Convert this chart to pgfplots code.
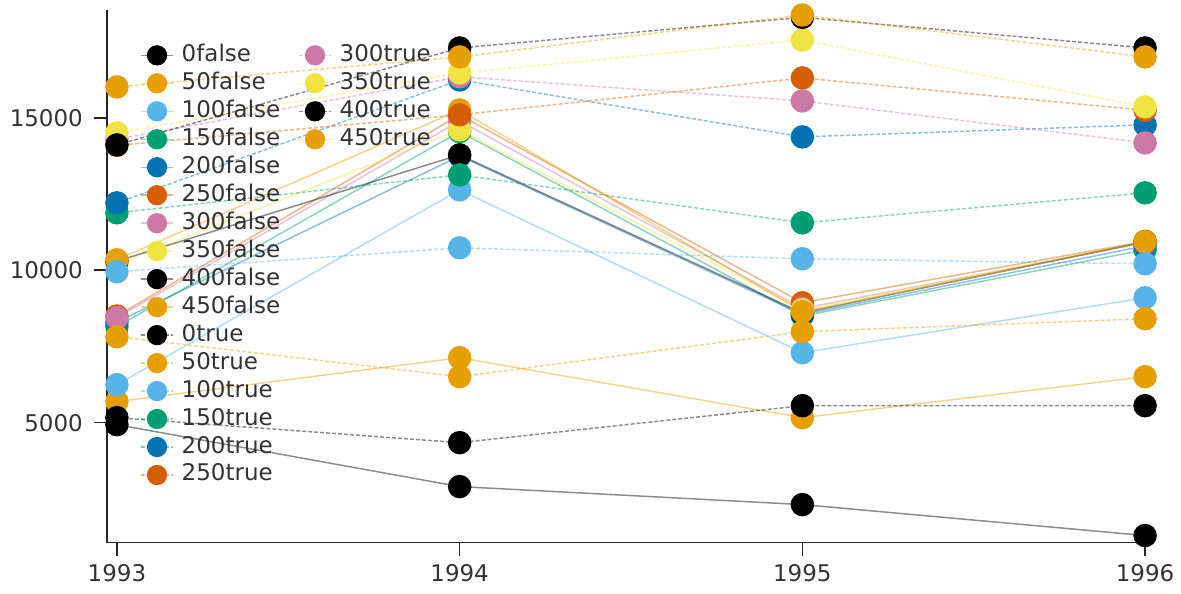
\documentclass[border=0pt]{standalone}
\usepackage{fontspec}
\setmainfont{DejaVu Sans}
\usepackage{pgfplots}
\pgfplotsset{compat=1.18}
\definecolor{wblack}{HTML}{000000}
\definecolor{worange}{HTML}{E69F00}
\definecolor{wsky}{HTML}{56B4E9}
\definecolor{wgreen}{HTML}{009E73}
\definecolor{wblue}{HTML}{0072B2}
\definecolor{wverm}{HTML}{D55E00}
\definecolor{wpink}{HTML}{CC79A7}
\definecolor{wyellow}{HTML}{F0E442}
\definecolor{txt}{HTML}{333333}
\pgfplotsset{
  sf/.style={color=#1, line width=0.75pt, draw opacity=0.45, mark=*, mark size=5.5pt,
    mark options={solid, draw opacity=1, fill opacity=1, fill=#1, draw=#1}},
  st/.style={sf=#1, dash pattern=on 2pt off 1pt},
}
\begin{document}
\begin{tikzpicture}
\path (-53.5pt,-25.5pt) rectangle (537pt,271.5pt);
\begin{axis}[
  at={(0,0)}, anchor=south west,
  width=524pt, height=266.5pt, scale only axis,
  xmin=1992.9708, xmax=1996.026, ymin=1066, ymax=18541,
  scaled y ticks=false, scaled x ticks=false,
  axis x line*=bottom, axis y line*=left,
  axis line style={line width=0.8pt, color=black!85, -},
  xtick={1993,1994,1995,1996}, xticklabels={1993,1994,1995,1996},
  ytick={5000,10000,15000}, yticklabels={5000,10000,15000},
  tick align=outside, major tick length=6.5pt,
  tick style={line width=0.8pt, color=black!85},
  ticklabel style={font=\fontsize{11.5}{13}\selectfont, text=txt},
  yticklabel style={xshift=-2pt},
  xticklabel style={yshift=-1pt},
  legend columns=2,
  legend cell align=left,
  legend image code/.code={\draw[mark repeat=2,mark phase=2,#1, mark size=4.7pt] plot coordinates {(0pt,0pt)(8pt,0pt)(16pt,0pt)};},
  legend style={at={(axis description cs:0,1)}, anchor=north west, xshift=16.5pt, yshift=-15.5pt,
    draw=none, fill=none, inner sep=0pt, row sep=0pt,
    font=\fontsize{11.5}{13}\selectfont, text=txt,
    nodes={inner xsep=0pt, inner ysep=1pt, text height=9pt, text depth=3pt},
    /tikz/every odd column/.append style={column sep=4pt},
    /tikz/column 2/.append style={column sep=9pt}},
]
\addplot[sf=wblack, forget plot] coordinates {(1993,4934) (1994,2902) (1995,2311) (1996,1295)};
\addplot[sf=worange, forget plot] coordinates {(1993,5689) (1994,7131) (1995,5164) (1996,6508)};
\addplot[sf=wsky, forget plot] coordinates {(1993,6246) (1994,12639) (1995,7295) (1996,9098)};
\addplot[sf=wgreen, forget plot] coordinates {(1993,8150) (1994,14550) (1995,8500) (1996,10672)};
\addplot[sf=wblue, forget plot] coordinates {(1993,8300) (1994,13750) (1995,8550) (1996,10800)};
\addplot[sf=wverm, forget plot] coordinates {(1993,8500) (1994,15098) (1995,8934) (1996,10950)};
\addplot[sf=wpink, forget plot] coordinates {(1993,8443) (1994,14900) (1995,8750) (1996,10900)};
\addplot[sf=wyellow, forget plot] coordinates {(1993,10200) (1994,14607) (1995,8700) (1996,10950)};
\addplot[sf=wblack, forget plot] coordinates {(1993,10300) (1994,13787) (1995,8600) (1996,10934)};
\addplot[sf=worange, forget plot] coordinates {(1993,10344) (1994,15262) (1995,8640) (1996,10934)};
\addplot[st=wblack, forget plot] coordinates {(1993,5164) (1994,4344) (1995,5557) (1996,5557)};
\addplot[st=worange, forget plot] coordinates {(1993,7820) (1994,6508) (1995,7984) (1996,8410)};
\addplot[st=wsky, forget plot] coordinates {(1993,9951) (1994,10738) (1995,10377) (1996,10213)};
\addplot[st=wgreen, forget plot] coordinates {(1993,11885) (1994,13131) (1995,11557) (1996,12541)};
\addplot[st=wblue, forget plot] coordinates {(1993,12213) (1994,16245) (1995,14377) (1996,14770)};
\addplot[st=wverm, forget plot] coordinates {(1993,14100) (1994,15100) (1995,16311) (1996,15250)};
\addplot[st=wpink, forget plot] coordinates {(1993,14300) (1994,16350) (1995,15557) (1996,14180)};
\addplot[st=wyellow, forget plot] coordinates {(1993,14508) (1994,16475) (1995,17557) (1996,15361)};
\addplot[st=wblack, forget plot] coordinates {(1993,14115) (1994,17295) (1995,18300) (1996,17295)};
\addplot[st=worange, forget plot] coordinates {(1993,16016) (1994,17000) (1995,18377) (1996,17000)};
% legend, row-wise for two columns
\addlegendimage{sf=wblack}\addlegendentry{0false}
\addlegendimage{st=wpink}\addlegendentry{300true}
\addlegendimage{sf=worange}\addlegendentry{50false}
\addlegendimage{st=wyellow}\addlegendentry{350true}
\addlegendimage{sf=wsky}\addlegendentry{100false}
\addlegendimage{st=wblack}\addlegendentry{400true}
\addlegendimage{sf=wgreen}\addlegendentry{150false}
\addlegendimage{st=worange}\addlegendentry{450true}
\addlegendimage{sf=wblue}\addlegendentry{200false}
\addlegendimage{empty legend}\addlegendentry{}
\addlegendimage{sf=wverm}\addlegendentry{250false}
\addlegendimage{empty legend}\addlegendentry{}
\addlegendimage{sf=wpink}\addlegendentry{300false}
\addlegendimage{empty legend}\addlegendentry{}
\addlegendimage{sf=wyellow}\addlegendentry{350false}
\addlegendimage{empty legend}\addlegendentry{}
\addlegendimage{sf=wblack}\addlegendentry{400false}
\addlegendimage{empty legend}\addlegendentry{}
\addlegendimage{sf=worange}\addlegendentry{450false}
\addlegendimage{empty legend}\addlegendentry{}
\addlegendimage{st=wblack}\addlegendentry{0true}
\addlegendimage{empty legend}\addlegendentry{}
\addlegendimage{st=worange}\addlegendentry{50true}
\addlegendimage{empty legend}\addlegendentry{}
\addlegendimage{st=wsky}\addlegendentry{100true}
\addlegendimage{empty legend}\addlegendentry{}
\addlegendimage{st=wgreen}\addlegendentry{150true}
\addlegendimage{empty legend}\addlegendentry{}
\addlegendimage{st=wblue}\addlegendentry{200true}
\addlegendimage{empty legend}\addlegendentry{}
\addlegendimage{st=wverm}\addlegendentry{250true}
\end{axis}
\end{tikzpicture}
\end{document}
